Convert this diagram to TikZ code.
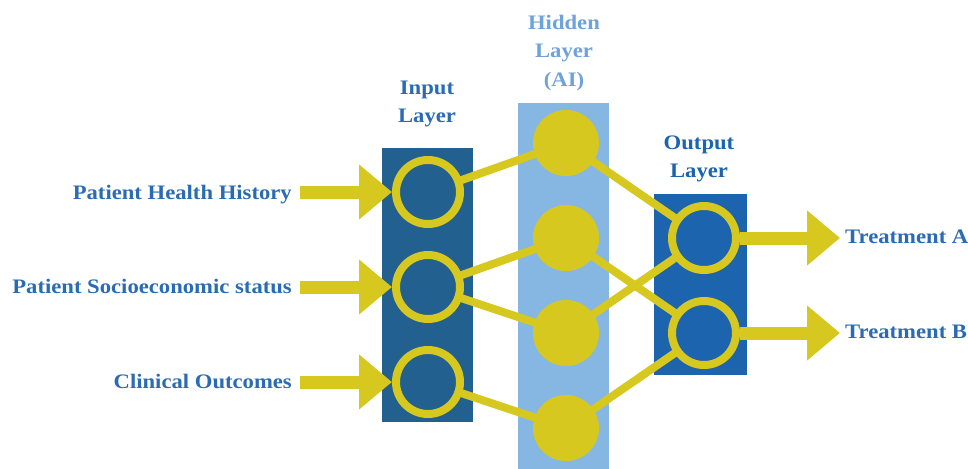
\documentclass[tikz,border=0pt]{standalone}
\usepackage{fontspec}
\setmainfont[FakeStretch=1.1]{Liberation Serif}
\usetikzlibrary{arrows.meta}
\definecolor{inblue}{HTML}{22608F}
\definecolor{hidblue}{HTML}{86B7E3}
\definecolor{outblue}{HTML}{1C64AD}
\definecolor{ylw}{HTML}{D6C81E}
\definecolor{txtblue}{HTML}{2A6BB4}
\definecolor{hidtxt}{HTML}{6FA2D8}
\pgfdeclarelayer{rects}
\pgfdeclarelayer{links}
\pgfsetlayers{rects,links,main}
\tikzset{
  lbl/.style={font=\fontsize{20.6}{28.5}\selectfont\bfseries, text=txtblue, inner sep=0pt},
  layerbox/.style={draw=none, inner sep=0pt, rectangle},
  ringnode/.style={circle, draw=ylw, line width=8pt, minimum size=64pt, inner sep=0pt},
  dotnode/.style={circle, fill=ylw, minimum size=66pt, inner sep=0pt, outer sep=0pt},
  link/.style={draw=ylw, line width=8pt},
  bigarrow/.style={draw=ylw, line width=13pt, -{Triangle[length=33pt,width=53pt]}},
}
\begin{document}
\begin{tikzpicture}[x=1pt,y=-1pt]
\useasboundingbox (0,0) rectangle (968,468);
% layer boxes
\begin{pgfonlayer}{rects}
\node[layerbox, fill=inblue, minimum width=91pt, minimum height=274pt] (inbox) at (427.5,285) {};
\node[layerbox, fill=hidblue, minimum width=91pt, minimum height=366pt] (hidbox) at (563.5,286) {};
\node[layerbox, fill=outblue, minimum width=93pt, minimum height=181pt] (outbox) at (700.5,284.5) {};
\end{pgfonlayer}
% layer titles
\node[lbl, align=center] (tin) at (427,104) {Input\\Layer};
\node[lbl, align=center, text=hidtxt] (thid) at (564,53) {Hidden\\Layer\\(AI)};
\node[lbl, align=center, text=outblue] (tout) at (699,159) {Output\\Layer};
% input nodes
\node[ringnode, fill=inblue] (i1) at (428,192) {};
\node[ringnode, fill=inblue] (i2) at (428,287) {};
\node[ringnode, fill=inblue] (i3) at (428,382) {};
% hidden nodes
\node[dotnode] (h1) at (566,143) {};
\node[dotnode] (h2) at (566,238) {};
\node[dotnode] (h3) at (566,333) {};
\node[dotnode] (h4) at (566,428) {};
% output nodes
\node[ringnode, fill=outblue] (o1) at (704,238) {};
\node[ringnode, fill=outblue] (o2) at (704,333) {};
% links
\begin{pgfonlayer}{links}
\draw[link] (i1.center) -- (h1.center);
\draw[link] (i2.center) -- (h2.center);
\draw[link] (i2.center) -- (h3.center);
\draw[link] (i3.center) -- (h4.center);
\draw[link] (h1.center) -- (o1.center);
\draw[link] (h2.center) -- (o2.center);
\draw[link] (h3.center) -- (o1.center);
\draw[link] (h4.center) -- (o2.center);
\end{pgfonlayer}
% input labels
\node[lbl, anchor=base east] (l1) at (292,199) {Patient Health History};
\node[lbl, anchor=base east] (l2) at (292,293) {Patient Socioeconomic status};
\node[lbl, anchor=base east] (l3) at (292,388) {Clinical Outcomes};
\coordinate (a1) at (300,192);
\coordinate (a2) at (300,287);
\coordinate (a3) at (300,382);
\draw[bigarrow] (a1) -- (i1.west);
\draw[bigarrow] (a2) -- (i2.west);
\draw[bigarrow] (a3) -- (i3.west);
% output labels
\node[lbl, anchor=base west] (r1) at (845,243) {Treatment A};
\node[lbl, anchor=base west] (r2) at (845,338) {Treatment B};
\coordinate (b1) at (840,238);
\coordinate (b2) at (840,333);
\draw[bigarrow] (o1.east) -- (b1);
\draw[bigarrow] (o2.east) -- (b2);
\end{tikzpicture}
\end{document}
